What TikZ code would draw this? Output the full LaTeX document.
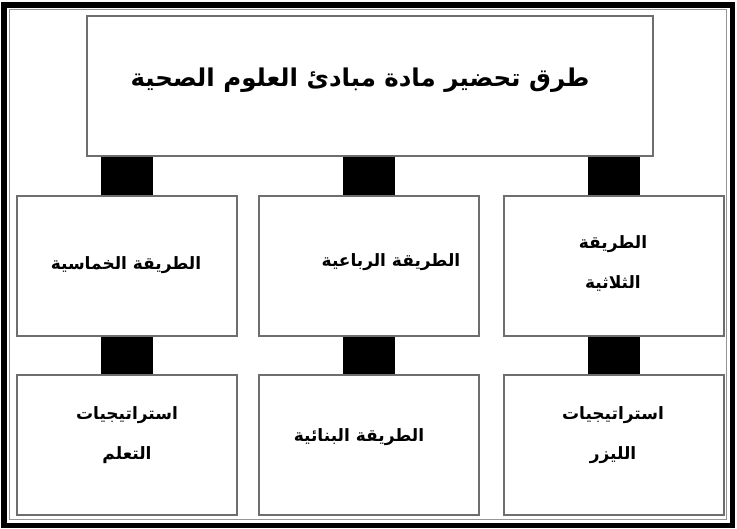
\documentclass[tikz,border=0pt]{standalone}
\usepackage{fontspec}
\newfontfamily\arabicfont[Script=Arabic]{DejaVu Sans}
\TeXXeTstate=1
\definecolor{boxgray}{RGB}{110,110,110}
\definecolor{framegray}{RGB}{150,150,150}
\begin{document}
\begin{tikzpicture}[x=1pt,y=-1pt,
  box/.style={draw=boxgray, line width=2pt, inner sep=0pt, anchor=north west, minimum height=140pt},
  conn/.style={fill=black},
  lbl/.style={font=\arabicfont\bfseries\fontsize{17}{40}\selectfont, align=center, inner sep=0pt},
  title/.style={font=\arabicfont\bfseries\fontsize{24.5}{30}\selectfont, inner sep=0pt}]
\useasboundingbox (0,0) rectangle (737,529);
\fill[white] (0,0) rectangle (737,529);
% outer frame
\draw[black, line width=5.5pt] (4,5) rectangle (732.5,525.5);
\draw[framegray, line width=1.5pt] (9.5,9.5) rectangle (726.5,519.5);
% boxes
\node[box, minimum width=566pt] (top) at (86,15) {};
\node[box, minimum width=220pt] (l2) at (16,195) {};
\node[box, minimum width=220pt] (m2) at (258,195) {};
\node[box, minimum width=220pt] (r2) at (503,195) {};
\node[box, minimum width=220pt] (l3) at (16,374) {};
\node[box, minimum width=220pt] (m3) at (258,374) {};
\node[box, minimum width=220pt] (r3) at (503,374) {};
% connectors
\foreach \a/\b in {top/l2, top/m2, top/r2, l2/l3, m2/m3, r2/r3}{
  \fill[conn] ([xshift=-26pt]\b.north) rectangle ([xshift=26pt]\b.north |- \a.south);
}
% labels
\node[title] (t0) at (360,80) {\beginR طرق تحضير مادة مبادئ العلوم الصحية\endR};
\node[lbl] (t1) at (126,265) {\beginR الطريقة الخماسية\endR};
\node[lbl] (t2) at (391,262) {\beginR الطريقة الرباعية\endR};
\node[lbl] (t3) at (613,263) {\beginR الطريقة\endR\\\beginR الثلاثية\endR};
\node[lbl] (t4) at (127,435) {\beginR استراتيجيات\endR\\\beginR التعلم\endR};
\node[lbl] (t5) at (359,437) {\beginR الطريقة البنائية\endR};
\node[lbl] (t6) at (613,435) {\beginR استراتيجيات\endR\\\beginR الليزر\endR};
\end{tikzpicture}
\end{document}
